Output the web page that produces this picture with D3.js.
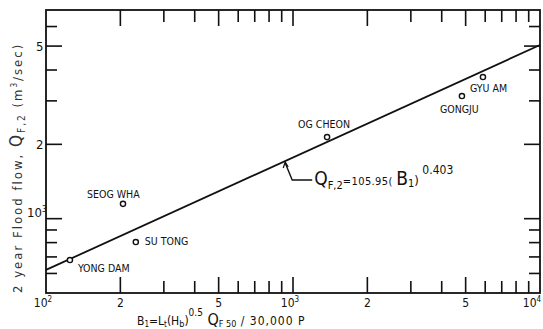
<!DOCTYPE html>
<html>
<head>
<meta charset="utf-8">
<script src="https://cdn.jsdelivr.net/npm/d3@7"></script>
<style>
  body { margin: 0; background: #fff; }
  svg text { font-family: "DejaVu Sans Condensed", "Liberation Sans", Arial, sans-serif; font-stretch: condensed; fill: #111; }
</style>
</head>
<body>
<div id="chart"></div>
<script>
// size of the page
let svg_width = 543;
let svg_height = 329;

// stations (B1, QF,2)
let stations = ["YONG DAM", "SEOG WHA", "SU TONG", "OG CHEON", "GONGJU", "GYU AM"];
let b1_values = [125, 205, 231, 1374, 4830, 5875];
let q_values = [680, 1148, 804, 2140, 3138, 3746];

// fitted line end points as drawn
let fit_b1 = [100, 10000];
let fit_q = [620, 5050];

// ticks
let x_ticks = [200, 300, 400, 500, 600, 700, 800, 900, 1000, 2000, 3000, 4000, 5000, 6000, 7000, 8000, 9000];
let y_ticks = [600, 700, 800, 900, 1000, 2000, 3000, 4000, 5000, 6000];
let x_label_values = [100, 200, 500, 1000, 2000, 5000, 10000];
let x_labels = [["10", "2"], ["2", ""], ["5", ""], ["10", "3"], ["2", ""], ["5", ""], ["10", "4"]];
let y_label_values = [1000, 2000, 5000];
let y_labels = [["10", "3"], ["2", ""], ["5", ""]];

// plot box
let plot_left = 46, plot_right = 540, plot_top = 10, plot_bottom = 293;

let x_scale = d3.scaleLog().domain([100, 10000]).range([plot_left, plot_right]);
let y_scale = d3.scaleLog().domain([500, 7000]).range([plot_bottom, plot_top]);

let svg = d3.select('#chart')
            .append('svg')
            .attr('width', svg_width)
            .attr('height', svg_height);

// ================================================
function isMajor(v) {
    let lead = Math.round(v / Math.pow(10, Math.floor(Math.log10(v) + 1e-9)));
    return lead == 1 || lead == 2 || lead == 5;
}
function xTickLen(d) { return isMajor(d) ? 16 : 12; }
function yTickLen(d) { return isMajor(d) ? 16 : 11; }

// tick labels
x_label_values.forEach(function(d, i) {
    let t = svg.append('text')
               .attr('x', x_scale(d) - (d == 10000 ? 8 : (x_labels[i][1] ? 3 : 0)))
               .attr('y', 307)
               .attr('font-size', 12)
               .attr('text-anchor', 'middle')
               .text(x_labels[i][0]);
    if (x_labels[i][1]) {
        t.append('tspan').attr('dy', -5).attr('font-size', 8).text(x_labels[i][1]);
    }
});
y_label_values.forEach(function(d, i) {
    let t = svg.append('text')
               .attr('x', y_labels[i][1] ? 27 : 36)
               .attr('y', y_scale(d) + (y_labels[i][1] ? -2 : 5))
               .attr('font-size', 13)
               .text(y_labels[i][0]);
    if (y_labels[i][1]) {
        t.append('tspan').attr('dy', -5).attr('font-size', 8).text(y_labels[i][1]);
    }
});

// fitted line
svg.append('path')
   .attr('d', d3.line()([[x_scale(fit_b1[0]), y_scale(fit_q[0])], [x_scale(fit_b1[1]), y_scale(fit_q[1])]]))
   .attr('fill', 'none')
   .attr('stroke', '#111').attr('stroke-width', 1.8);

// points
svg.selectAll('circle')
   .data(b1_values)
   .enter()
   .append('circle')
   .attr('cx', function(d) { return x_scale(d); })
   .attr('cy', function(d, i) { return y_scale(q_values[i]); })
   .attr('r', 2.6)
   .attr('fill', '#fff')
   .attr('stroke', '#111')
   .attr('stroke-width', 1.4);

// station names (offset from point)
let label_dx = [8, -36, 9, -29, -22, -13];
let label_dy = [12, -6, 3, -9, 17, 15];
svg.selectAll('text.station')
   .data(stations)
   .enter()
   .append('text')
   .attr('class', 'station')
   .attr('x', function(d, i) { return x_scale(b1_values[i]) + label_dx[i]; })
   .attr('y', function(d, i) { return y_scale(q_values[i]) + label_dy[i]; })
   .attr('font-size', 10.5)
   .text(function(d) { return d; });

// equation annotation
let anno_b1 = 930;
let ax = x_scale(anno_b1);
let ay = y_scale(fit_q[0] * Math.pow(fit_q[1] / fit_q[0], Math.log10(anno_b1 / fit_b1[0]) / 2));
svg.append('path')
   .attr('d', 'M' + (ax) + ',' + (ay + 2) + ' L' + (ax + 7) + ',' + (ay + 19) + ' L' + (ax + 27) + ',' + (ay + 19))
   .attr('fill', 'none').attr('stroke', '#111').attr('stroke-width', 1.4);
svg.append('path')
   .attr('d', 'M' + (ax - 2) + ',' + (ay + 7) + ' L' + (ax) + ',' + (ay + 1) + ' L' + (ax + 3) + ',' + (ay + 6))
   .attr('fill', 'none').attr('stroke', '#111').attr('stroke-width', 1.2);

let eq = svg.append('text').attr('x', ax + 29).attr('y', ay + 24).attr('font-size', 19);
eq.append('tspan').text('Q');
eq.append('tspan').attr('font-size', 11).attr('dy', 4).text('F,2');
eq.append('tspan').attr('font-size', 11).attr('dy', -4).attr('letter-spacing', 0.4).text('=105.95( ');
eq.append('tspan').attr('font-size', 19).text('B');
eq.append('tspan').attr('font-size', 11).attr('dy', 2).text('1');
eq.append('tspan').attr('font-size', 13).attr('dy', -2).text(')');
eq.append('tspan').attr('font-size', 12).attr('dy', -11).text(' 0.403');

// y axis title
let yt = svg.append('text')
            .attr('transform', 'translate(22,' + 293 + ') rotate(-90)')
            .attr('font-size', 13)
            .attr('letter-spacing', 2)
            .style('fill', '#333');
yt.append('tspan').text('2 year Flood flow, ');
yt.append('tspan').attr('font-size', 17).text('Q');
yt.append('tspan').attr('font-size', 10).attr('dy', 3).text('F,2');
yt.append('tspan').attr('dy', -3).text('  (m');
yt.append('tspan').attr('font-size', 8).attr('dy', -5).text('3');
yt.append('tspan').attr('dy', 5).text('/sec)');

// x axis title
let xt = svg.append('text').attr('x', 137).attr('y', 325).attr('font-size', 12);
xt.append('tspan').text('B');
xt.append('tspan').attr('font-size', 8).attr('dy', 2).text('1');
xt.append('tspan').attr('dy', -2).text('=L');
xt.append('tspan').attr('font-size', 8).attr('dy', 2).text('t');
xt.append('tspan').attr('dy', -2).text('(H');
xt.append('tspan').attr('font-size', 9).attr('dy', 2).text('b');
xt.append('tspan').attr('dy', -2).text(')');
xt.append('tspan').attr('font-size', 10).attr('dy', -9).text('0.5');
xt.append('tspan').attr('font-size', 16).attr('dy', 9).text(' Q');
xt.append('tspan').attr('font-size', 9).attr('dy', 2).text('F 50');
xt.append('tspan').attr('dy', -2).attr('letter-spacing', 1).text(' / 30,000 P');

// ticks on all four sides, pointing inwards (thin filled bars, drawn last)
let tick_g = svg.append('g').attr('fill', '#111');
tick_g.selectAll('rect.xb').data(x_ticks).enter().append('rect').attr('class', 'xb')
      .attr('x', d => x_scale(d) - 0.8).attr('width', 1.6)
      .attr('y', d => plot_bottom - xTickLen(d)).attr('height', d => xTickLen(d));
tick_g.selectAll('rect.xt').data(x_ticks).enter().append('rect').attr('class', 'xt')
      .attr('x', d => x_scale(d) - 0.8).attr('width', 1.6)
      .attr('y', plot_top).attr('height', d => xTickLen(d));
tick_g.selectAll('rect.yl').data(y_ticks).enter().append('rect').attr('class', 'yl')
      .attr('x', plot_left).attr('width', d => yTickLen(d))
      .attr('y', d => y_scale(d) - 0.8).attr('height', 1.6);
tick_g.selectAll('rect.yr').data(y_ticks).enter().append('rect').attr('class', 'yr')
      .attr('x', d => plot_right - yTickLen(d)).attr('width', d => yTickLen(d))
      .attr('y', d => y_scale(d) - 0.8).attr('height', 1.6);

// frame
svg.append('rect')
   .attr('x', plot_left).attr('y', plot_top)
   .attr('width', plot_right - plot_left).attr('height', plot_bottom - plot_top)
   .attr('fill', 'none').attr('stroke', '#111').attr('stroke-width', 1.8);
</script>
</body>
</html>
